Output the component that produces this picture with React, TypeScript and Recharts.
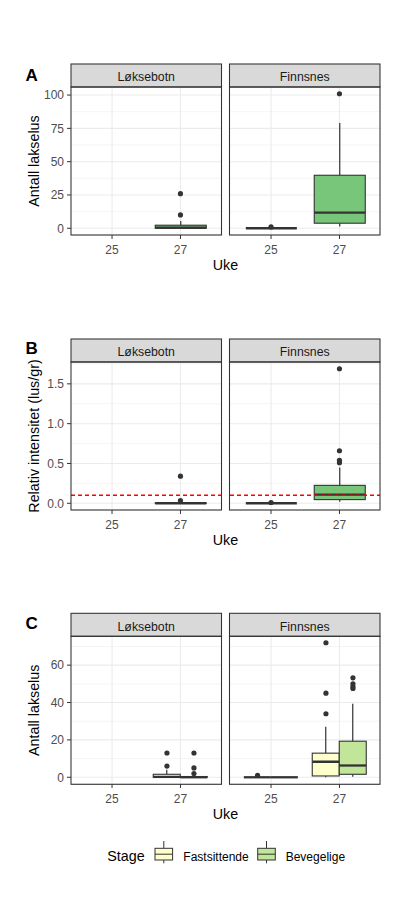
import React from "react";
import { ComposedChart, Bar, Scatter, XAxis, YAxis, CartesianGrid, ReferenceLine } from "recharts";

const FONT = '"Liberation Sans", Arial, Helvetica, sans-serif';

const weeks = ["25", "27"];
const sites = ["Løksebotn", "Finnsnes"];
const stages = ["Fastsittende", "Bevegelige"];
const stageColors = ["#FFFFCC", "#C2E699"];
const boxGreen = "#78C679";

// one box = [lower whisker, Q1, median, Q3, upper whisker], null = no data
type Box = number[] | null;

// A: Antall lakselus, [site][week]
const countBoxes: Box[][] = [
  [null, [0, 0, 0.5, 2.3, 5.5]],
  [[0, 0, 0, 0, 0], [1.3, 3.8, 11.8, 39.8, 79]],
];
const countOutliers: number[][][] = [
  [[], [10, 26]],
  [[1], [101]],
];
const countTicks = [0, 25, 50, 75, 100];
const countMinor = [12.5, 37.5, 62.5, 87.5];

// B: Relativ intensitet (lus/gr)
const intensBoxes: Box[][] = [
  [null, [0, 0, 0, 0.005, 0.01]],
  [[0, 0, 0, 0, 0], [0.02, 0.046, 0.108, 0.225, 0.45]],
];
const intensOutliers: number[][][] = [
  [[], [0.035, 0.34]],
  [[0.01], [0.51, 0.54, 0.66, 1.69]],
];
const intensTicks = [0, 0.5, 1, 1.5];
const intensMinor = [0.25, 0.75, 1.25, 1.75];
const intensThreshold = 0.1;

// C: Antall lakselus per stadium
const fastBoxes: Box[][] = [
  [null, [0, 0, 0.2, 1.6, 4]],
  [[0, 0, 0, 0, 0], [0, 0.7, 8.3, 12.9, 27]],
];
const fastOutliers: number[][][] = [
  [[], [6, 13]],
  [[1], [34, 45, 72]],
];
const bevBoxes: Box[][] = [
  [null, [0, 0, 0, 0.4, 0.8]],
  [[0, 0, 0, 0, 0], [0.3, 1.6, 6.3, 19.3, 39.3]],
];
const bevOutliers: number[][][] = [
  [[], [2, 5, 13]],
  [[], [47.5, 48.5, 50, 53.2]],
];
const stageTicks = [0, 20, 40, 60];
const stageMinor = [10, 30, 50, 70];

const PANEL_W = 150.5;
const PANEL_H = 148;
const STRIP_H = 23;
const AXIS_W = 31;
const XAXIS_H = 30;
const COL_X = [71, 229.5];
const PAD = PANEL_W / 22;

type Series = { color: string; boxes: Box[][]; outliers: number[][][] };
type Row = {
  tag: string;
  title: string;
  stripTop: number;
  tagY: number;
  series: Series[];
  domain: [number, number];
  ticks: number[];
  minor: number[];
  fmt: (v: number) => string;
  threshold?: number;
  barSize: number;
};

const rows: Row[] = [
  {
    tag: "A",
    title: "Antall lakselus",
    stripTop: 64,
    tagY: 81,
    series: [{ color: boxGreen, boxes: countBoxes, outliers: countOutliers }],
    domain: [-5.05, 106.05],
    ticks: countTicks,
    minor: countMinor,
    fmt: (v) => String(v),
    barSize: 51,
  },
  {
    tag: "B",
    title: "Relativ intensitet (lus/gr)",
    stripTop: 339,
    tagY: 354,
    series: [{ color: boxGreen, boxes: intensBoxes, outliers: intensOutliers }],
    domain: [-0.0845, 1.7745],
    ticks: intensTicks,
    minor: intensMinor,
    fmt: (v) => v.toFixed(1),
    threshold: intensThreshold,
    barSize: 51,
  },
  {
    tag: "C",
    title: "Antall lakselus",
    stripTop: 613.3,
    tagY: 628.5,
    series: [
      { color: stageColors[0], boxes: fastBoxes, outliers: fastOutliers },
      { color: stageColors[1], boxes: bevBoxes, outliers: bevOutliers },
    ],
    domain: [-3.6, 75.6],
    ticks: stageTicks,
    minor: stageMinor,
    fmt: (v) => String(v),
    barSize: 27,
  },
];

const LINE = "#333333";

function boxShape(key: string, fill: string) {
  return (props: any) => {
    const { x, y, width, height, payload } = props;
    const s: Box = payload ? payload[key] : null;
    if (!s || x == null || y == null || isNaN(y)) return <g />;
    const [lo, q1, med, q3, hi] = s;
    const top = Math.min(y, y + height);
    const bottom = Math.max(y, y + height);
    const px = (v: number) => (hi === lo ? bottom : top + ((hi - v) / (hi - lo)) * (bottom - top));
    const cx = x + width / 2;
    return (
      <g>
        <line x1={cx} x2={cx} y1={px(hi)} y2={px(q3)} stroke={LINE} strokeWidth={1.2} />
        <line x1={cx} x2={cx} y1={px(q1)} y2={px(lo)} stroke={LINE} strokeWidth={1.2} />
        <rect x={x} y={px(q3)} width={width} height={Math.max(px(q1) - px(q3), 0)} fill={fill} stroke={LINE} strokeWidth={1.1} />
        <line x1={x} x2={x + width} y1={px(med)} y2={px(med)} stroke={LINE} strokeWidth={2.3} />
      </g>
    );
  };
}

function dot(dx: number) {
  return (props: any) => <circle cx={props.cx + dx} cy={props.cy} r={2.6} fill={LINE} />;
}

// vertical grid lines at the band centres of the week axis
function bandCenters({ xAxis }: any) {
  const sc = xAxis && xAxis.scale;
  if (!sc) return [];
  const bw = typeof sc.bandwidth === "function" ? sc.bandwidth() : 0;
  const f =
    typeof sc === "function"
      ? (v: string) => sc(v)
      : typeof sc.map === "function"
      ? (v: string) => sc.map(v)
      : null;
  if (!f) return [];
  return weeks.map((w) => f(w) + bw / 2).filter((v) => Number.isFinite(v));
}

function outlierPoints(list: number[][]) {
  const pts: { week: string; v: number }[] = [];
  list.forEach((vals, wi) => vals.forEach((v) => pts.push({ week: weeks[wi], v })));
  return pts;
}

const tickStyle = { fill: "#4D4D4D", fontSize: 12, fontFamily: FONT };

function Facet({ row, site }: { row: Row; site: number }) {
  const showY = site === 0;
  const n = row.series.length;
  const data = weeks.map((w, wi) => {
    const d: any = { week: w };
    row.series.forEach((s, si) => {
      d["s" + si] = s.boxes[site][wi];
    });
    return d;
  });
  const left = COL_X[site] - (showY ? AXIS_W : 0);
  const top = row.stripTop + STRIP_H;
  return (
    <div style={{ position: "absolute", left, top }}>
      <ComposedChart
        width={PANEL_W + (showY ? AXIS_W : 0)}
        height={PANEL_H + XAXIS_H}
        data={data}
        margin={{ top: 0, right: 0, bottom: 0, left: 0 }}
        barGap={0}
      >
        <CartesianGrid vertical={false} horizontalValues={row.minor} stroke="#EBEBEB" strokeWidth={0.55} />
        <CartesianGrid stroke="#EBEBEB" strokeWidth={1.07} verticalCoordinatesGenerator={bandCenters} />
        <XAxis
          dataKey="week"
          type="category"
          allowDuplicatedCategory={false}
          padding={{ left: PAD, right: PAD }}
          height={XAXIS_H}
          axisLine={false}
          tickSize={4}
          tickMargin={6}
          tickLine={{ stroke: LINE }}
          tick={tickStyle}
          interval={0}
        />
        <YAxis
          type="number"
          domain={row.domain}
          ticks={row.ticks}
          allowDataOverflow
          hide={!showY}
          width={AXIS_W}
          axisLine={false}
          tickSize={4}
          tickMargin={3}
          tickLine={{ stroke: LINE }}
          tick={tickStyle}
          tickFormatter={row.fmt}
          interval={0}
        />
        {row.series.map((s, si) => (
          <Bar
            key={"b" + si}
            dataKey={(d: any) => (d["s" + si] ? [d["s" + si][0], d["s" + si][4]] : null)}
            barSize={row.barSize}
            shape={boxShape("s" + si, s.color)}
            isAnimationActive={false}
          />
        ))}
        {row.threshold != null && (
          <ReferenceLine
            y={row.threshold}
            stroke="#FF0000"
            strokeOpacity={1}
            strokeDasharray="4 3"
            strokeWidth={1.5}
          />
        )}
        {row.series.map((s, si) => (
          <Scatter
            key={"o" + si}
            data={outlierPoints(s.outliers[site])}
            dataKey="v"
            shape={dot((si - (n - 1) / 2) * row.barSize)}
            isAnimationActive={false}
          />
        ))}
      </ComposedChart>
    </div>
  );
}

const legendX = [155, 257.7];
const legendTextX = [183.3, 285.7];

export default function App() {
  return (
    <div style={{ position: "absolute", left: 0, top: 0, width: 406, height: 900, background: "#fff", fontFamily: FONT }}>
      {rows.map((row) => sites.map((_, si) => <Facet key={row.tag + si} row={row} site={si} />))}
      <svg width={406} height={900} style={{ position: "absolute", left: 0, top: 0, pointerEvents: "none" }} fontFamily={FONT}>
        {rows.map((row) => {
          const pTop = row.stripTop + STRIP_H;
          const midY = pTop + PANEL_H / 2;
          const cx = (COL_X[0] + COL_X[1] + PANEL_W) / 2;
          return (
            <g key={row.tag}>
              <text x={25.5} y={row.tagY} fontSize={17} fontWeight="bold" fill="#000">
                {row.tag}
              </text>
              <text transform={`translate(38.5,${midY}) rotate(-90)`} textAnchor="middle" fontSize={14.3} fill="#000">
                {row.title}
              </text>
              <text x={cx} y={pTop + PANEL_H + 34.5} textAnchor="middle" fontSize={14.3} fill="#000">
                Uke
              </text>
              {sites.map((s, i) => (
                <g key={s}>
                  <rect x={COL_X[i]} y={row.stripTop} width={PANEL_W} height={STRIP_H} fill="#D9D9D9" stroke={LINE} strokeWidth={1.07} />
                  <text x={COL_X[i] + PANEL_W / 2} y={row.stripTop + 17.3} textAnchor="middle" fontSize={12.3} fill="#1A1A1A">
                    {s}
                  </text>
                  <rect x={COL_X[i]} y={pTop} width={PANEL_W} height={PANEL_H} fill="none" stroke={LINE} strokeWidth={1.07} />
                </g>
              ))}
            </g>
          );
        })}
        <text x={107.3} y={861} fontSize={14.3} fill="#000">
          Stage
        </text>
        {stages.map((s, i) => (
          <g key={s}>
            <line x1={legendX[i] + 8.8} x2={legendX[i] + 8.8} y1={841} y2={863.3} stroke={LINE} strokeWidth={1} />
            <rect x={legendX[i]} y={848.3} width={17.6} height={11.7} fill={stageColors[i]} stroke={LINE} strokeWidth={1} />
            <line x1={legendX[i]} x2={legendX[i] + 17.6} y1={854.2} y2={854.2} stroke={LINE} strokeWidth={1} />
            <text x={legendTextX[i]} y={861} fontSize={12} fill="#000">
              {s}
            </text>
          </g>
        ))}
      </svg>
    </div>
  );
}
